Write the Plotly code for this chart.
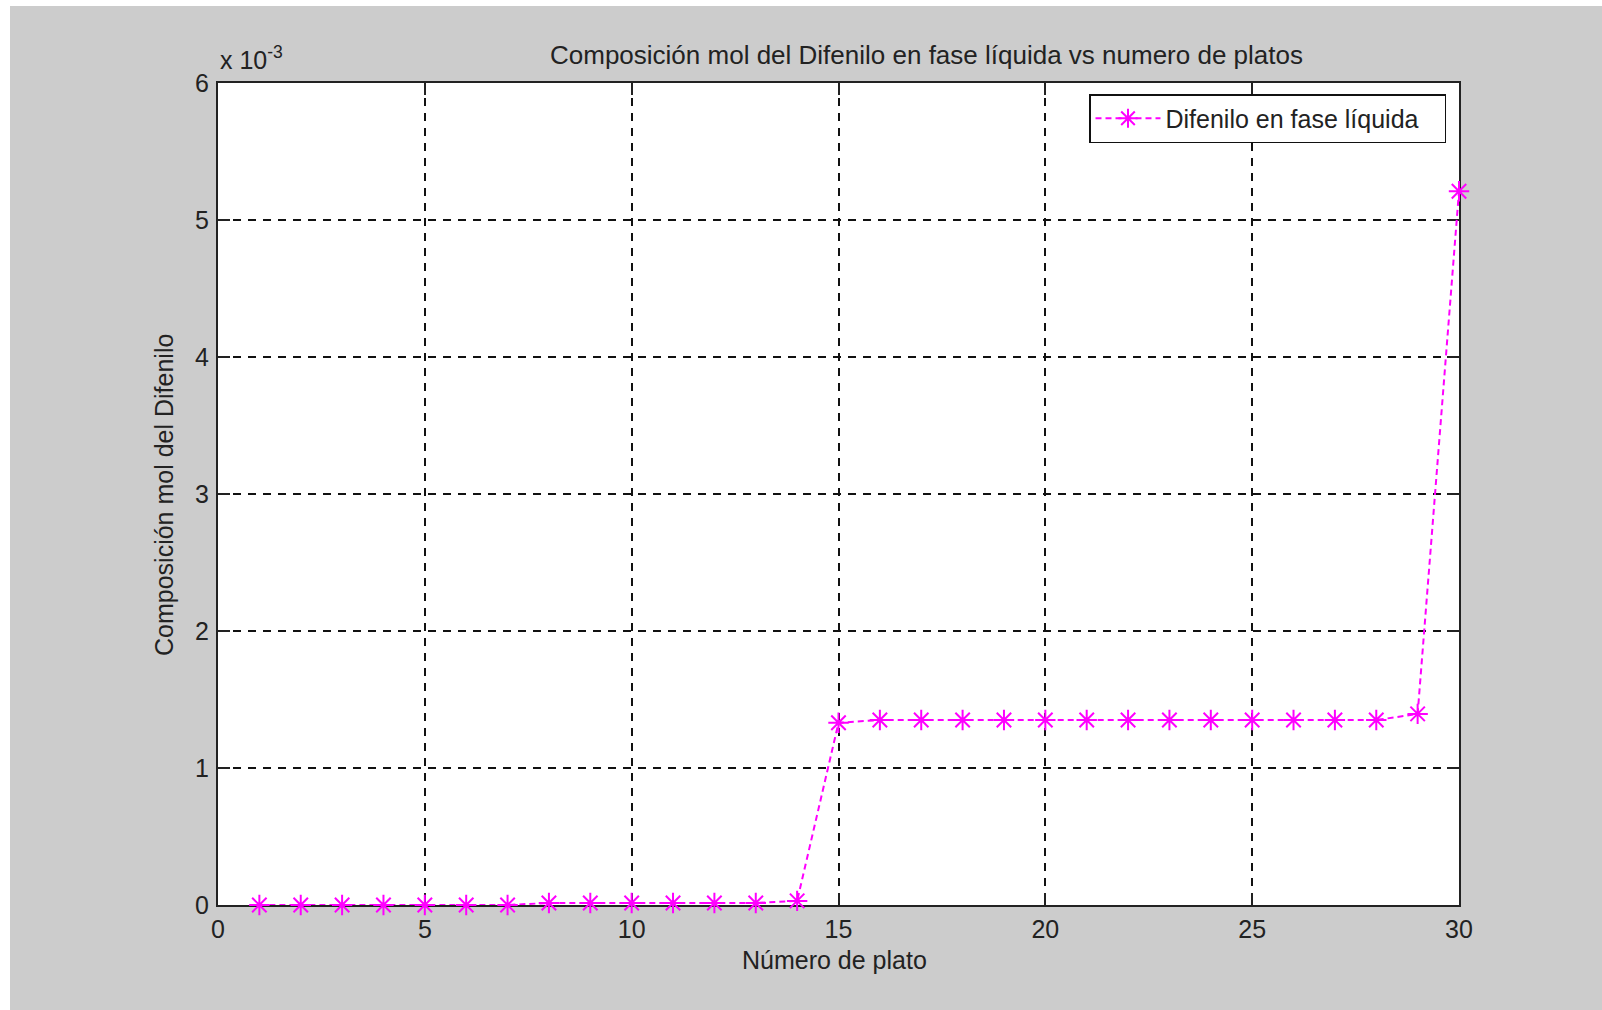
import plotly.graph_objects as go

# ---- data ----
plate_number = list(range(1, 31))
difenilo_liquido = [
    0.0, 0.0, 0.0, 0.0, 0.0, 0.0, 0.0,
    0.000015, 0.000015, 0.000015, 0.000015, 0.000015, 0.000015,
    0.00003,
    0.00133,
    0.00135, 0.00135, 0.00135, 0.00135, 0.00135, 0.00135, 0.00135,
    0.00135, 0.00135, 0.00135, 0.00135, 0.00135, 0.00135,
    0.001395,
    0.00521,
]
x_ticks = [0, 5, 10, 15, 20, 25, 30]
y_ticks = [0.0, 0.001, 0.002, 0.003, 0.004, 0.005, 0.006]
y_tick_text = ["0", "1", "2", "3", "4", "5", "6"]

title_text = "Composición mol del Difenilo en fase líquida vs numero de platos"
x_label = "Número de plato"
y_label = "Composición mol del Difenilo"
legend_name = "Difenilo en fase líquida"
exponent_text = "x 10<sup>-3</sup>"

# ---- layout geometry (pixels) ----
W, H = 1602, 1010
L, R, T, B = 218, 143, 83, 105
PW, PH = W - L - R, H - T - B


def px(x):
    return (x - L) / PW


def py(y):
    return 1 - (y - T) / PH


FONT = "Liberation Sans, Arial, sans-serif"
TXT = "#222222"
MAG = "#FF00FF"

fig = go.Figure()
fig.add_trace(go.Scatter(
    x=plate_number, y=difenilo_liquido, name=legend_name,
    mode="lines+markers",
    line=dict(color=MAG, width=2, dash="6px,4px"),
    marker=dict(symbol="asterisk-open", size=17, color=MAG,
                line=dict(color=MAG, width=2)),
    cliponaxis=False,
    showlegend=True,
))

axis_common = dict(
    showline=True, linecolor="#222222", linewidth=2, mirror="ticks",
    ticks="inside", ticklen=12, tickwidth=1.5, tickcolor="#222222",
    showgrid=True, gridcolor="#111111", gridwidth=1.5, griddash="8px,7px",
    zeroline=False, tickfont=dict(family=FONT, size=25, color=TXT),
    layer="below traces",
)

fig.update_layout(
    width=W, height=H,
    margin=dict(l=L, r=R, t=T, b=B, pad=0),
    paper_bgcolor="#CCCCCC", plot_bgcolor="#FFFFFF",
    font=dict(family=FONT, size=25, color=TXT),
    xaxis=dict(range=[0, 30], tickvals=x_ticks, ticklabelstandoff=1,
               **axis_common),
    yaxis=dict(range=[0, 0.006], tickvals=y_ticks, ticktext=y_tick_text,
               ticklabelstandoff=2, **axis_common),
    legend=dict(x=px(1446), y=py(94), xanchor="right", yanchor="top",
                orientation="h", entrywidth=274, entrywidthmode="pixels",
                bgcolor="#FFFFFF", bordercolor="#111111", borderwidth=1.5,
                font=dict(family=FONT, size=25, color=TXT), itemwidth=65),
    showlegend=True,
)

annotations = [
    dict(text=title_text, x=px(927), y=py(54.5), xref="paper", yref="paper",
         xanchor="center", yanchor="middle", showarrow=False,
         font=dict(family=FONT, size=26, color=TXT)),
    dict(text=x_label, x=px(834.5), y=py(960), xref="paper", yref="paper",
         xanchor="center", yanchor="middle", showarrow=False,
         font=dict(family=FONT, size=25, color=TXT)),
    dict(text=y_label, x=px(164), y=py(495), xref="paper", yref="paper",
         xanchor="center", yanchor="middle", showarrow=False, textangle=-90,
         font=dict(family=FONT, size=25, color=TXT)),
    dict(text=exponent_text, x=px(218), y=py(76), xref="paper", yref="paper",
         xanchor="left", yanchor="bottom", showarrow=False,
         font=dict(family=FONT, size=25, color=TXT)),
]
fig.update_layout(annotations=annotations)

# white strips at the left and top edges of the page
fig.add_shape(type="rect", xref="paper", yref="paper",
              x0=px(0), x1=px(10), y0=py(H), y1=py(0),
              fillcolor="#FFFFFF", line=dict(width=0), layer="above")
fig.add_shape(type="rect", xref="paper", yref="paper",
              x0=px(0), x1=px(W), y0=py(6), y1=py(0),
              fillcolor="#FFFFFF", line=dict(width=0), layer="above")

fig.write_html("out.html")
